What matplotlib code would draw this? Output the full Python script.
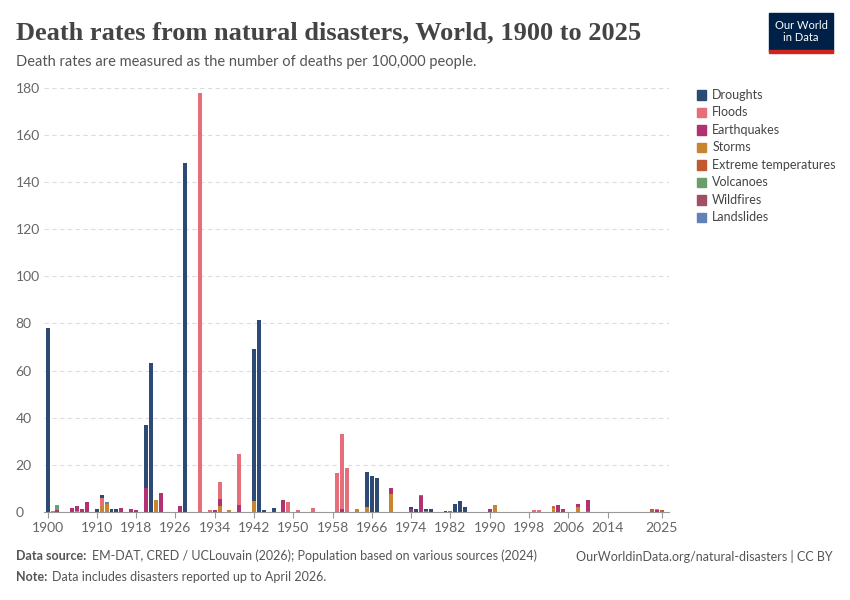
import numpy as np
import matplotlib.pyplot as plt

years = list(range(1900, 2026))
def series(d):
    return np.array([d.get(y, 0.0) for y in years])

droughts = series({1900:78, 1910:1, 1911:1, 1913:1.2, 1914:1.2, 1920:27, 1921:63, 1928:148,
                   1942:64.5, 1943:81.5, 1944:0.8, 1946:1.5, 1965:15, 1966:15, 1967:14.5,
                   1974:1, 1975:1, 1977:0.8, 1978:1, 1981:0.5, 1983:3.5, 1984:4.5, 1985:2})
floods = series({1901:0.5, 1911:3.5, 1931:178, 1933:0.8, 1935:7, 1939:21.5, 1949:4, 1951:0.6,
                 1954:1.5, 1959:16.5, 1960:32, 1961:18.5, 1999:0.8, 2000:0.8, 2003:0.5, 2024:0.5})
earthquakes = series({1902:0.6, 1905:1.5, 1906:2, 1907:1.2, 1908:4, 1915:1.5, 1917:1.2, 1918:0.6,
                      1920:10, 1923:8, 1927:2.5, 1934:0.8, 1935:3, 1939:3, 1948:5, 1960:1,
                      1970:2.5, 1974:1, 1976:6.5, 1990:1, 2004:3, 2005:1.2, 2008:1, 2010:4.5, 2024:0.8})
storms = series({1906:0.5, 1911:2.5, 1912:3.5, 1922:5, 1935:2.5, 1937:0.6, 1942:4.5, 1963:1,
                 1965:2, 1970:7.5, 1991:3, 2003:1.5, 2008:2.2})
extreme = series({2003:0.5, 2010:0.5, 2023:1, 2025:0.8})
volcanoes = series({1902:2.5})
wildfires = series({})
landslides = series({1912:0.5, 1976:0.5, 1977:0.5, 1982:0.5})

names = ["Droughts", "Floods", "Earthquakes", "Storms", "Extreme temperatures",
         "Volcanoes", "Wildfires", "Landslides"]
data = [droughts, floods, earthquakes, storms, extreme, volcanoes, wildfires, landslides]
colors = ["#2c4a74", "#e56e7a", "#b03270", "#c8842e", "#c25a30", "#6a9f6a", "#a05060", "#6082b6"]
stack_order = [3, 4, 2, 5, 1, 7, 0, 6]  # bottom to top

plt.rcParams['font.family'] = ['Lato', 'DejaVu Sans']
fig = plt.figure(figsize=(8.5, 6), dpi=100)
ax = fig.add_axes([0.052, 0.147, 0.735, 0.722])
bottom = np.zeros(len(years))
for i in stack_order:
    ax.bar(years, data[i], bottom=bottom, width=0.8, color=colors[i], edgecolor='none')
    bottom += data[i]

ax.set_xlim(1899.3, 2026.5)
ax.set_ylim(0, 184)
ax.set_yticks(range(0, 181, 20))
xt = [1900, 1910, 1918, 1926, 1934, 1942, 1950, 1958, 1966, 1974, 1982, 1990, 1998, 2006, 2014, 2025]
ax.set_xticks(xt)
ax.tick_params(axis='both', labelsize=10, colors='#666666', length=0)
ax.tick_params(axis='x', length=4, color='#999999')
ax.grid(axis='y', linestyle=(0, (4, 3)), color='#dddddd', lw=0.8)
ax.set_axisbelow(True)
for s in ['top', 'right', 'left']:
    ax.spines[s].set_visible(False)
ax.spines['bottom'].set_color('#999999')
for lab in ax.get_yticklabels():
    lab.set_horizontalalignment('left')
ax.tick_params(axis='y', pad=-2)
for lab in ax.get_yticklabels():
    lab.set_x(-0.05)

for k, n in enumerate(names):
    y = 0.842 - k * 0.0292
    fig.patches.append(plt.Rectangle((0.82, y - 0.008), 0.011, 0.016, transform=fig.transFigure,
                                     color=colors[k], figure=fig))
    fig.text(0.838, y, n, fontsize=9, color='#444444', va='center')

fig.text(0.019, 0.945, "Death rates from natural disasters, World, 1900 to 2025",
         fontsize=19, family=['Liberation Serif'], weight='bold', color='#444444', va='center')
fig.text(0.019, 0.897, "Death rates are measured as the number of deaths per 100,000 people.",
         fontsize=10.5, color='#555555', va='center')
fig.patches.append(plt.Rectangle((0.905, 0.915), 0.075, 0.063, transform=fig.transFigure,
                                 color='#002147', figure=fig))
fig.patches.append(plt.Rectangle((0.905, 0.912), 0.075, 0.004, transform=fig.transFigure,
                                 color='#ce261e', figure=fig))
fig.text(0.9425, 0.947, "Our World\nin Data", fontsize=8, color='white', ha='center',
         va='center', linespacing=1.1)

fig.text(0.019, 0.073, "Data source:", fontsize=9, color='#555555', va='center', weight='bold')
fig.text(0.108, 0.073, "EM-DAT, CRED / UCLouvain (2026); Population based on various sources (2024)",
         fontsize=9, color='#555555', va='center')
fig.text(0.98, 0.073, "OurWorldinData.org/natural-disasters | CC BY", fontsize=9,
         color='#555555', va='center', ha='right')
fig.text(0.019, 0.038, "Note:", fontsize=9, color='#555555', va='center', weight='bold')
fig.text(0.061, 0.038, "Data includes disasters reported up to April 2026.",
         fontsize=9, color='#555555', va='center')
fig.savefig("out.png", dpi=100)
